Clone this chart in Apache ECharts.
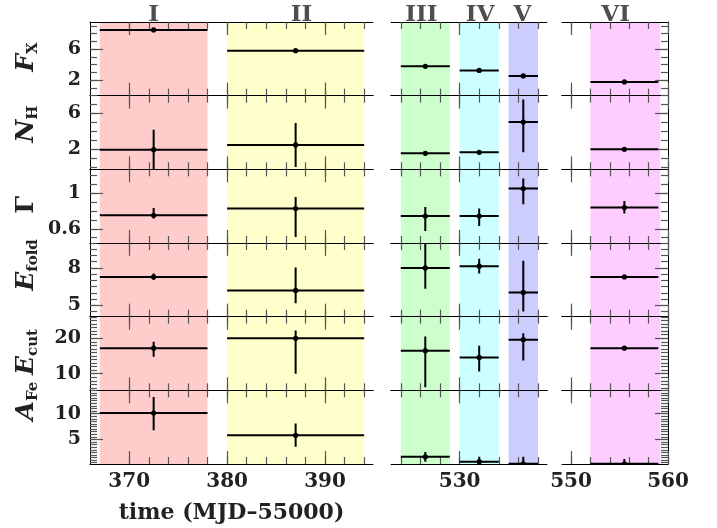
<!DOCTYPE html>
<html><head><meta charset="utf-8">
<script src="https://cdn.jsdelivr.net/npm/echarts@6/dist/echarts.min.js"></script>
<style>html,body{margin:0;padding:0;background:#fff}#c{width:717px;height:528px}</style>
</head><body><div id="c"></div>
<script>
// ---------------- data ----------------
const categories = ['I', 'II', 'III', 'IV', 'V', 'VI'];
const timeMid = [372.5, 387.0, 526.5, 532.0, 536.5, 555.5];
const timeLo  = [367, 380, 524, 530, 535, 552];
const timeHi  = [378, 394, 529, 534, 538, 559];
const bandLo  = [367, 380, 524, 530, 535, 552];
const bandHi  = [378, 394, 529, 534, 538, 559.2];
const labelTime = [372.5, 387.6, 526.1, 532.1, 536.4, 554.6];

const fluxVal = [8.48, 5.80, 3.78, 3.26, 2.54, 1.77];
const fluxLo  = [8.40, 5.73, 3.71, 3.19, 2.47, 1.70];
const fluxHi  = [8.56, 5.87, 3.85, 3.33, 2.61, 1.84];

const nhVal = [1.96, 2.48, 1.56, 1.67, 5.00, 2.00];
const nhLo  = [-0.3, 0.07, 1.46, 1.58, 1.67, 1.90];
const nhHi  = [4.14, 4.89, 1.66, 1.77, 7.48, 2.10];

const gammaVal = [0.752, 0.828, 0.744, 0.744, 1.053, 0.839];
const gammaLo  = [0.715, 0.508, 0.575, 0.632, 0.876, 0.771];
const gammaHi  = [0.834, 0.958, 0.846, 0.828, 1.166, 0.913];

const efoldVal = [7.27, 6.19, 8.00, 8.14, 6.03, 7.27];
const efoldLo  = [7.05, 5.16, 6.33, 7.55, 4.49, 7.17];
const efoldHi  = [7.54, 8.03, 10.5, 8.73, 8.57, 7.37];

const ecutVal = [17.2, 20.0, 16.5, 14.6, 19.6, 17.2];
const ecutLo  = [14.8, 10.0, 6.2, 10.65, 13.7, 16.9];
const ecutHi  = [19.0, 22.2, 20.5, 17.9, 21.4, 17.5];

const afeVal = [10.1, 5.8, 1.65, 0.70, 0.30, 0.30];
const afeLo  = [6.8, 3.6, 0.70, 0.30, 0.0, 0.0];
const afeHi  = [13.2, 8.1, 2.56, 1.65, 1.65, 1.20];

// axis ranges and tick labels
const segMin = [366, 523, 549.07];
const segMax = [394.9, 538.92, 560];
const xMinorTicks = [
  [370, 372, 374, 376, 378, 380, 382, 384, 386, 388, 390, 392, 394],
  [524, 526, 528, 530, 532, 534, 536, 538],
  [550, 552, 554, 556, 558, 560]
];
const xTickLabels = [[370, 380, 390], [530], [550, 560]];

const yMin = [0, -0.2, 0.44, 4.08, 5.3, 0.25];
const yMax = [9.5, 7.9, 1.27, 10.0, 26.1, 14.5];
const yTickLabels = [[2, 6], [2, 6], [0.6, 1], [5, 8], [10, 20], [5, 10]];
const yMinorStep = [1, 1, 0.1, 0.5, 1, 0.5];

// ---------------- styling ----------------
const FONT = '"DejaVu Serif", serif';
const TXT = '#222';
const bandColors = ['#ffcccc', '#ffffcc', '#ccffcc', '#ccffff', '#ccccff', '#ffccff'];
const segLeft = [90, 391, 562], segWidth = [283, 156, 106];
const top0 = 22, rowH = (464 - 22) / 6;

const rows = [
  [fluxVal, fluxLo, fluxHi],
  [nhVal, nhLo, nhHi],
  [gammaVal, gammaLo, gammaHi],
  [efoldVal, efoldLo, efoldHi],
  [ecutVal, ecutLo, ecutHi],
  [afeVal, afeLo, afeHi]
];

function minorTicks(r) {
  const out = [];
  const st = yMinorStep[r];
  let v = Math.ceil(yMin[r] / st - 1e-9) * st;
  for (; v <= yMax[r] + 1e-9; v += st) out.push(Math.round(v * 1000) / 1000);
  return out;
}

const grids = [], xAxes = [], yAxes = [], series = [];
for (let r = 0; r < 6; r++) {
  for (let s = 0; s < 3; s++) {
    const g = r * 3 + s;
    grids.push({left: segLeft[s], top: top0 + r * rowH, width: segWidth[s], height: rowH});
    const majors = xTickLabels[s];
    const baseX = (pos, ticks, len, line, labels) => ({
      type: 'value', gridIndex: g, position: pos, min: segMin[s], max: segMax[s],
      splitLine: {show: false}, z: 3,
      axisLine: {show: line, onZero: false, lineStyle: {color: '#000', width: 1}},
      axisTick: {show: true, inside: true, length: len, customValues: ticks, lineStyle: {color: '#555', width: 1.2}},
      axisLabel: labels ? {show: true, customValues: majors, fontFamily: FONT, fontWeight: 'bold', fontSize: 20, color: TXT, margin: 8} : {show: false}
    });
    const bottomX = baseX('bottom', xMinorTicks[s], 7, true, r === 5);
    if (r === 5 && s === 0) {
      bottomX.name = 'time (MJD\u201355000)';
      bottomX.nameLocation = 'middle';
      bottomX.nameGap = 38;
      bottomX.nameTextStyle = {fontFamily: FONT, fontWeight: 'bold', fontSize: 22, color: TXT};
    }
    xAxes.push(bottomX);
    xAxes.push(baseX('bottom', majors, 13, false, false));
    xAxes.push(baseX('top', xMinorTicks[s], 7, true, false));
    xAxes.push(baseX('top', majors, 13, false, false));

    const baseY = (ticks, len, line, labels) => ({
      type: 'value', gridIndex: g, position: s === 2 ? 'right' : 'left', show: s !== 1,
      min: yMin[r], max: yMax[r], splitLine: {show: false}, z: 3,
      axisLine: {show: line, onZero: false, lineStyle: {color: '#000', width: 1}},
      axisTick: {show: true, inside: true, length: len, customValues: ticks, lineStyle: {color: '#555', width: 1.2}},
      axisLabel: labels ? {show: true, customValues: yTickLabels[r], fontFamily: FONT, fontWeight: 'bold', fontSize: 19, color: TXT, margin: 9} : {show: false}
    });
    yAxes.push(baseY(minorTicks(r), 7, true, s === 0));
    yAxes.push(baseY(yTickLabels[r], 13, false, false));

    // bands
    const areas = [];
    for (let i = 0; i < categories.length; i++) {
      if (bandHi[i] > segMin[s] && bandLo[i] < segMax[s]) {
        areas.push([{xAxis: bandLo[i], itemStyle: {color: bandColors[i], opacity: 1}}, {xAxis: bandHi[i]}]);
      }
    }
    series.push({
      type: 'scatter', xAxisIndex: 4 * g, yAxisIndex: 2 * g, data: [], silent: true, z: 1,
      markArea: {silent: true, label: {show: false}, data: areas}
    });

    // error bars
    const [vals, los, his] = rows[r];
    const pts = [];
    for (let i = 0; i < categories.length; i++) {
      if (timeMid[i] > segMin[s] && timeMid[i] < segMax[s]) {
        pts.push([timeMid[i], vals[i], timeLo[i], timeHi[i], los[i], his[i]]);
      }
    }
    series.push({
      type: 'custom', xAxisIndex: 4 * g, yAxisIndex: 2 * g, data: pts, clip: true, z: 5, silent: true,
      renderItem: function (params, api) {
        const x = api.value(0), y = api.value(1);
        const p = api.coord([x, y]);
        const a = api.coord([api.value(2), y]);
        const b = api.coord([api.value(3), y]);
        const c = api.coord([x, api.value(4)]);
        const d = api.coord([x, api.value(5)]);
        const st = {stroke: '#000', lineWidth: 2};
        return {
          type: 'group', children: [
            {type: 'line', shape: {x1: a[0], y1: a[1], x2: b[0], y2: b[1]}, style: st},
            {type: 'line', shape: {x1: c[0], y1: c[1], x2: d[0], y2: d[1]}, style: st},
            {type: 'circle', shape: {cx: p[0], cy: p[1], r: 2.6}, style: {fill: '#000'}}
          ]
        };
      }
    });

    // period labels on top
    if (r === 0) {
      const lab = [];
      for (let i = 0; i < categories.length; i++) {
        if (labelTime[i] > segMin[s] && labelTime[i] < segMax[s]) {
          lab.push({name: categories[i], value: [labelTime[i], yMax[r]]});
        }
      }
      series.push({
        type: 'scatter', xAxisIndex: 4 * g, yAxisIndex: 2 * g, data: lab, symbolSize: 0, clip: false, silent: true, z: 6,
        label: {show: true, position: 'top', distance: 0, offset: [0, 5], formatter: '{b}', fontFamily: FONT, fontWeight: 'bold', fontSize: 23, lineHeight: 23, color: TXT}
      });
    }
  }
}

// row titles (rotated)
const rowTitles = [
  {m: 'F', s: 'X', y: 57, italic: true},
  {m: 'N', s: 'H', y: 124, italic: true},
  {m: '\u0393', s: '', y: 205, italic: false},
  {m: 'E', s: 'fold', y: 265, italic: true},
  {m: 'E', s: 'cut', y: 352, italic: true},
  {m: 'A', s: 'Fe', y: 401, italic: true}
];
const graphics = rowTitles.map(t => ({
  type: 'text', x: 26, y: t.y, rotation: Math.PI / 2,
  style: {
    text: '{m|' + t.m + '}' + (t.s ? '{s|' + t.s + '}' : ''),
    align: 'center', verticalAlign: 'middle',
    rich: {
      m: {fontFamily: FONT, fontWeight: 'bold', fontStyle: t.italic ? 'italic' : 'normal', fontSize: 25, lineHeight: 30, fill: TXT, color: TXT},
      s: {fontFamily: FONT, fontWeight: 'bold', fontSize: 15, lineHeight: 15, verticalAlign: 'bottom', fill: TXT, color: TXT}
    }
  }
}));

const chart = echarts.init(document.getElementById('c'));
chart.setOption({
  animation: false,
  backgroundColor: '#fff',
  grid: grids,
  xAxis: xAxes,
  yAxis: yAxes,
  series: series,
  graphic: graphics
});
</script>
</body></html>
